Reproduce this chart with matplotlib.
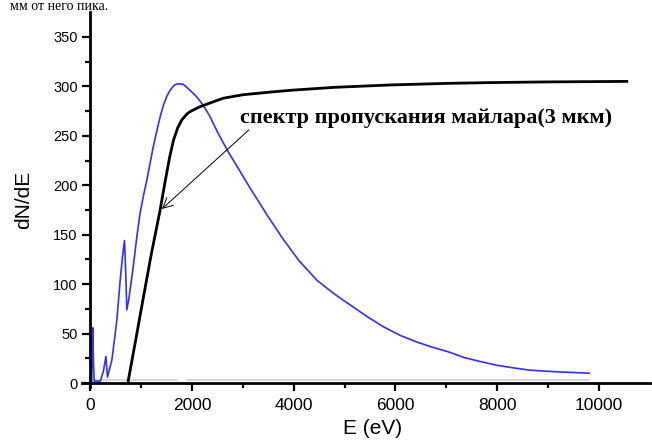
import numpy as np
import matplotlib.pyplot as plt

plt.rcParams["font.family"] = ["Liberation Sans", "DejaVu Sans"]

# blue spectrum
e_blue = [0, 30, 50, 65, 80, 200, 260, 310, 340, 426, 480, 525, 590, 640, 675, 700, 720,
          760, 800, 845, 910, 982, 1050, 1113, 1180, 1240, 1310, 1375, 1440, 1507, 1560,
          1600, 1650, 1703, 1770, 1830, 1900, 2024, 2100, 2220, 2350, 2500, 2710, 2900,
          3144, 3300, 3500, 3800, 4100, 4455, 4800, 5110, 5450, 5760, 6100, 6420, 6680,
          7075, 7335, 7650, 7990, 8300, 8650, 9200, 9805]
y_blue = [0, 0, 56, 20, 2, 2, 12, 27, 6, 23, 45, 64, 104, 130, 144, 110, 74,
          85, 100, 117, 145, 172, 190, 205, 223, 239, 255, 269, 281, 290, 295,
          298, 301, 302.5, 302.5, 302, 299, 293, 289, 281, 270, 254, 234, 218,
          197, 184.5, 168, 145, 124, 104, 90, 79, 67, 57, 48, 41.5, 37,
          31, 26, 22, 18, 15.5, 13, 11.3, 10]

# mylar transmission (black)
e_black = [740, 900, 1047, 1200, 1375, 1460, 1560, 1640, 1720, 1800, 1900, 1965, 2060,
           2160, 2400, 2615, 3000, 3500, 3930, 4800, 5895, 7000, 7860, 9000, 10545]
y_black = [0, 45, 87, 130, 175, 200, 228, 246, 258, 266, 272, 274.5, 277,
           279.5, 284, 288, 291.5, 294, 296, 299, 301.4, 303, 303.8, 304.5, 305]

# faint baseline
base_segments = [(0, 1710), (1905, 9800)]
base_level = 3

fig = plt.figure(figsize=(6.52, 4.41), dpi=100)
ax = fig.add_axes([0.1258, 0.1224, 0.871, 0.850])

for a, b in base_segments:
    ax.plot([a, b], [base_level, base_level], color="#d0d0d0", lw=1.2, zorder=1)
ax.plot(e_blue, y_blue, color="#3030ff", lw=1.2, zorder=2)
ax.plot(e_black, y_black, color="black", lw=2.0, zorder=3)

ax.text(2950, 268, "спектр пропускания майлара(3 мкм)", fontsize=16,
        fontweight="bold", family="Liberation Serif", va="center", ha="left")
ax.annotate("", xy=(1410, 176), xytext=(3120, 256),
            arrowprops=dict(arrowstyle="->", color="black", lw=0.7,
                            shrinkA=0, shrinkB=0, mutation_scale=18))

ax.set_xlim(-160, 11000)
ax.set_ylim(-4, 375)
ax.spines["left"].set_position(("data", 0))
ax.spines["bottom"].set_position(("data", 0))
ax.spines["top"].set_visible(False)
ax.spines["right"].set_visible(False)
for s in ("left", "bottom"):
    ax.spines[s].set_linewidth(2)

ax.set_xticks(np.arange(0, 10001, 2000))
ax.set_xticks(np.arange(1000, 10001, 2000), minor=True)
ax.set_yticks(np.arange(0, 351, 50))
ax.set_yticks(np.arange(25, 351, 50), minor=True)
ax.tick_params(which="major", length=6, width=1.6, direction="out")
ax.tick_params(which="minor", length=3.5, width=1.6, direction="out")
ax.tick_params(axis="x", labelsize=12.5, pad=5)
ax.tick_params(axis="y", labelsize=10.5, pad=3)

ax.set_xlabel("E (eV)", fontsize=15)
ax.set_ylabel("dN/dE", fontsize=15)
ax.xaxis.set_label_coords(0.512, -0.085)
ax.yaxis.set_label_coords(-0.086, 0.5)

fig.text(0.015, 0.999, "мм от него пика.", fontsize=10, family="Liberation Serif",
         va="top", ha="left")

fig.savefig("out.png", dpi=100)
plt.close(fig)
